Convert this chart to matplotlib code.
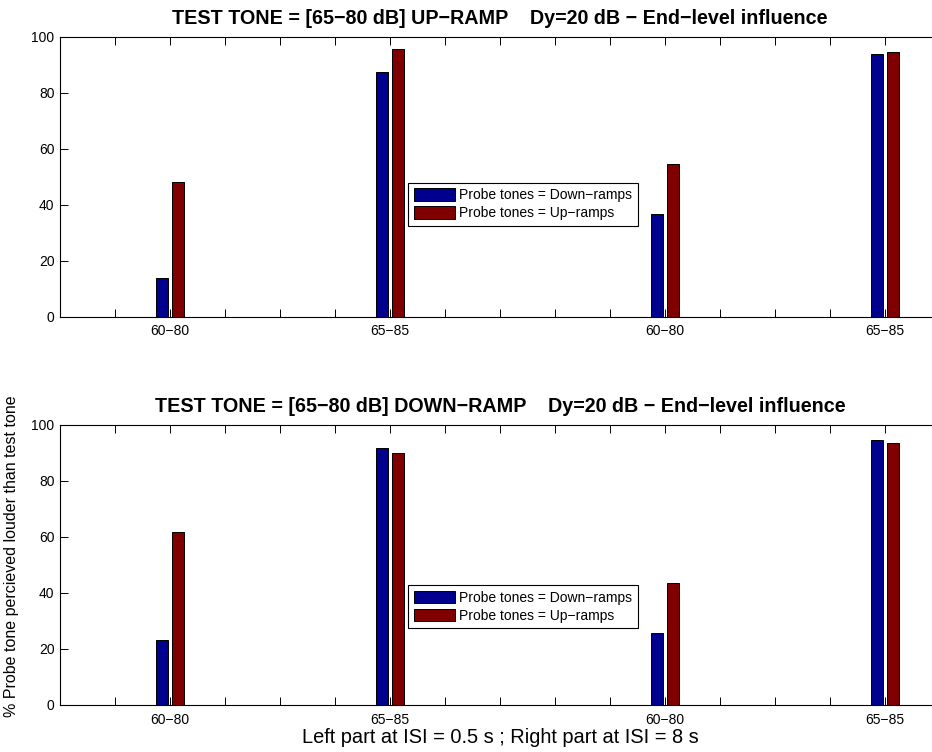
import matplotlib
matplotlib.use("Agg")
import matplotlib.pyplot as plt
import numpy as np

plt.rcParams['font.family'] = ['Liberation Sans', 'DejaVu Sans']

# 15 stimulus slots; only four carry a level-range label
tick_labels = ['', '60\u221280', '', '', '', '65\u221285', '', '', '', '',
               '60\u221280', '', '', '', '65\u221285']

# % probe tone perceived louder, test tone = up-ramp
up_test_down_probes = [0, 13.9, 0, 0, 0, 87.4, 0, 0, 0, 0, 36.6, 0, 0, 0, 93.9]
up_test_up_probes = [0, 48.2, 0, 0, 0, 95.6, 0, 0, 0, 0, 54.7, 0, 0, 0, 94.6]

# % probe tone perceived louder, test tone = down-ramp
down_test_down_probes = [0, 23.0, 0, 0, 0, 91.7, 0, 0, 0, 0, 25.7, 0, 0, 0, 94.5]
down_test_up_probes = [0, 61.8, 0, 0, 0, 89.9, 0, 0, 0, 0, 43.6, 0, 0, 0, 93.4]

series_names = ['Probe tones = Down\u2212ramps', 'Probe tones = Up\u2212ramps']
titles = ['TEST TONE = [65\u221280 dB] UP\u2212RAMP    Dy=20 dB \u2212 End\u2212level influence',
          'TEST TONE = [65\u221280 dB] DOWN\u2212RAMP    Dy=20 dB \u2212 End\u2212level influence']

BLUE = '#00008f'
RED = '#800000'

W, H = 932, 752
fig = plt.figure(figsize=(W / 100, H / 100), dpi=100)


def px_axes(left, top, right, bottom):
    return fig.add_axes([left / W, 1 - bottom / H, (right - left) / W, (bottom - top) / H])


def draw_panel(ax, down_vals, up_vals, title, legend_top):
    n = len(tick_labels)
    x = np.arange(1, n + 1)
    group = min(0.8, 2 / (2 + 1.5))
    bw = group / 2 * 0.8
    off = group / 4
    ax.bar(x - off, down_vals, width=bw, color=BLUE, edgecolor='black',
           linewidth=0.7, label=series_names[0])
    ax.bar(x + off, up_vals, width=bw, color=RED, edgecolor='black',
           linewidth=0.7, label=series_names[1])
    ax.set_xlim(0, 16)
    ax.set_ylim(0, 100)
    ax.set_xticks(x)
    ax.set_xticklabels(tick_labels, fontsize=10)
    ax.set_yticks(np.arange(0, 101, 20))
    ax.tick_params(axis='both', direction='in', length=5.5, width=0.7,
                   top=True, right=True, labelsize=10)
    ax.tick_params(axis='x', pad=5.5)
    ax.tick_params(axis='y', pad=4)
    for s in ax.spines.values():
        s.set_linewidth(0.8)
    ax.set_title(title, fontsize=14.2, fontweight='bold', pad=9)
    leg = ax.legend(loc='upper left', bbox_to_anchor=(0.3955, legend_top),
                    fontsize=10, frameon=True, fancybox=False, shadow=False,
                    handlelength=3.0, handleheight=1.0, handletextpad=0.3,
                    labelspacing=0.3, borderpad=0.4, borderaxespad=0)
    leg.get_frame().set_edgecolor('black')
    leg.get_frame().set_linewidth(0.8)
    leg.get_frame().set_alpha(1)


ax1 = px_axes(60, 37, 940, 316.5)
draw_panel(ax1, up_test_down_probes, up_test_up_probes, titles[0], 0.479)

ax2 = px_axes(60, 424.5, 940, 705)
draw_panel(ax2, down_test_down_probes, down_test_up_probes, titles[1], 0.428)

fig.text(500 / W, 1 - 743 / H, 'Left part at ISI = 0.5 s ; Right part at ISI = 8 s',
         ha='center', va='baseline', fontsize=14.4)

fig.text(12 / W, 1 - 556 / H, '% Probe tone percieved louder than test tone',
         rotation=90, ha='center', va='center', fontsize=11.5)

fig.savefig('out.png', dpi=100)
